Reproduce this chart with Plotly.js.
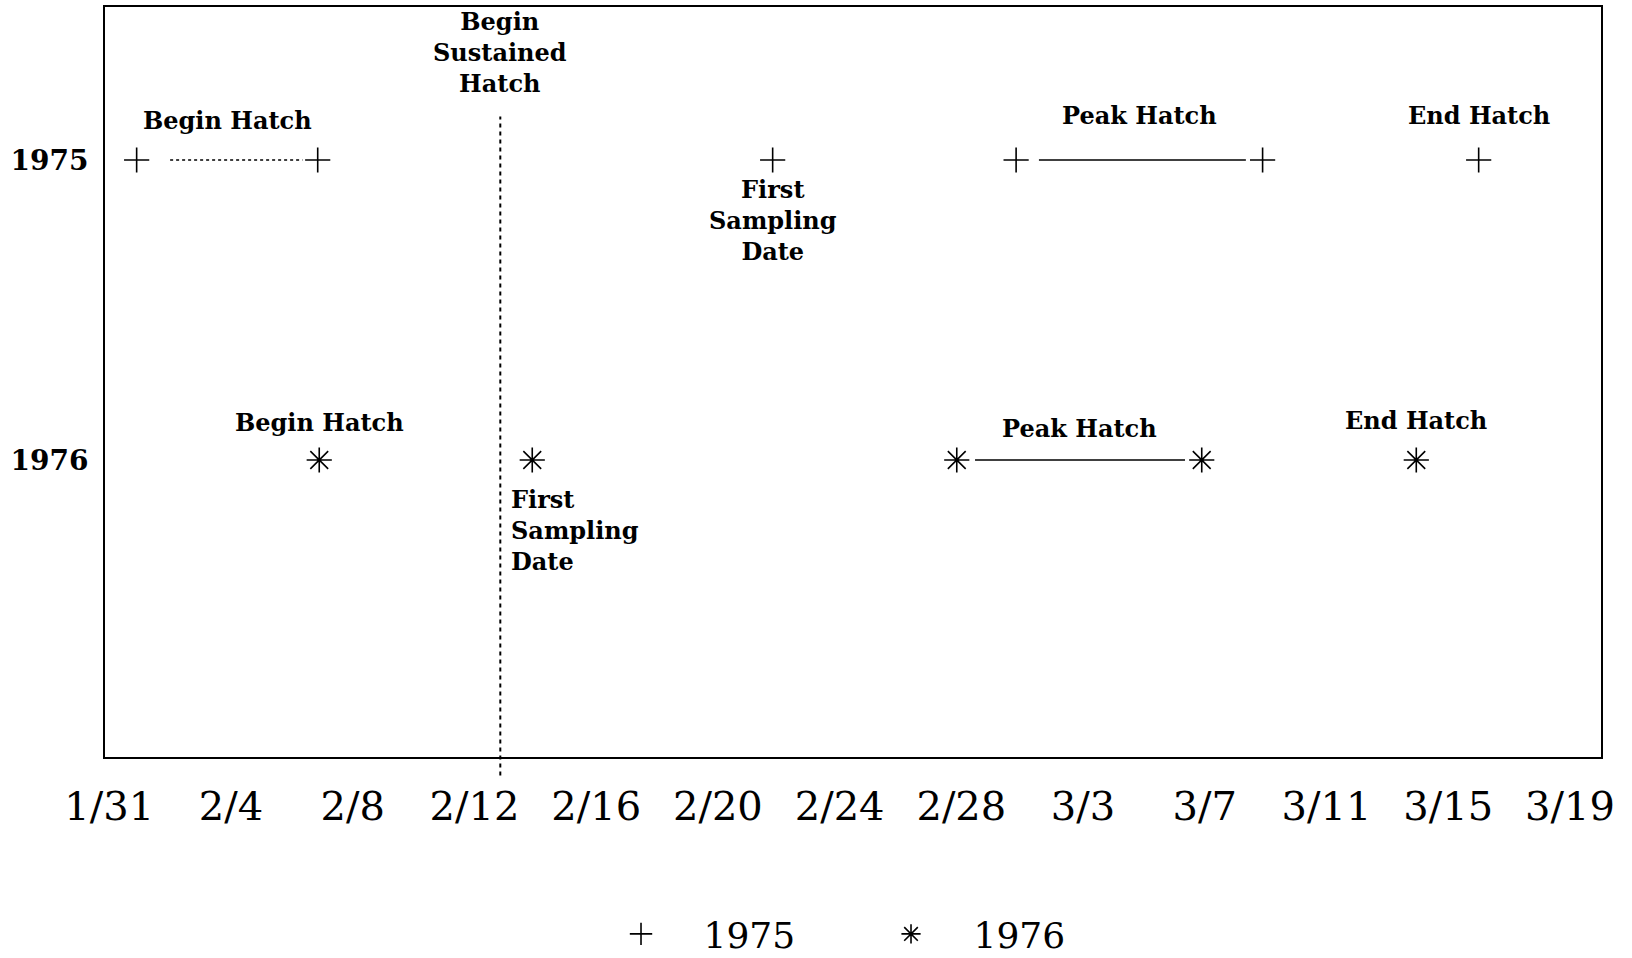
<!DOCTYPE html>
<html>
<head>
<meta charset="utf-8">
<script src="https://cdn.plot.ly/plotly-3.0.1.min.js"></script>
<style>
  html, body { margin: 0; padding: 0; background: #fff; }
  #chart { width: 1632px; height: 958px; }
</style>
</head>
<body>
<div id="chart"></div>
<script>
// ---- Data (days counted from 1/31) ----
const tickDays = [0, 4, 8, 12, 16, 20, 24, 28, 32, 36, 40, 44, 48];
const tickLabels = ['1/31', '2/4', '2/8', '2/12', '2/16', '2/20', '2/24', '2/28', '3/3', '3/7', '3/11', '3/15', '3/19'];
const yearVals = [1975, 1976];
const yearLabels = ['1975', '1976'];

// 1975 events
const beginHatch1975 = [0.9, 6.85];
const firstSampling1975 = [21.8];
const peakHatch1975 = [29.8, 37.9];
const endHatch1975 = [45.0];

// 1976 events
const beginHatch1976 = [6.9];
const firstSampling1976 = [13.9];
const peakHatch1976 = [27.85, 35.9];
const endHatch1976 = [42.95];

// Begin of sustained hatch (vertical line)
const sustainedHatchDay = 12.85;

// ---- Build traces ----
const x1975 = [].concat(beginHatch1975, firstSampling1975, peakHatch1975, endHatch1975);
const x1976 = [].concat(beginHatch1976, firstSampling1976, peakHatch1976, endHatch1976);

const SERIF = 'DejaVu Serif, Liberation Serif, serif';

function segment(xs, y, gapL, gapR, dash) {
  return {
    x: [xs[0] + gapL, xs[1] - gapR],
    y: [y, y],
    mode: 'lines',
    line: { color: '#000', width: 1.6, dash: dash },
    showlegend: false,
    hoverinfo: 'skip'
  };
}

const traces = [
  segment(beginHatch1975, yearVals[0], 1.1, 0.5, '3px,3px'),
  segment(peakHatch1975, yearVals[0], 0.75, 0.55, 'solid'),
  segment(peakHatch1976, yearVals[1], 0.6, 0.55, 'solid'),
  {
    x: x1975,
    y: x1975.map(() => yearVals[0]),
    mode: 'markers',
    name: yearLabels[0],
    marker: { symbol: 'cross-thin-open', size: 18, color: '#000', line: { color: '#000', width: 1.6 } },
    cliponaxis: false
  },
  {
    x: x1976,
    y: x1976.map(() => yearVals[1]),
    mode: 'markers',
    name: yearLabels[1],
    marker: { symbol: 'asterisk-open', size: 21, color: '#000', line: { color: '#000', width: 1.6 } },
    cliponaxis: false
  }
];

// ---- Annotations ----
const annFont = { family: SERIF, size: 24, color: '#000', weight: 'bold' };
function ann(x, y, text, yshift, extra) {
  return Object.assign({
    x: x, y: y, xref: 'x', yref: 'y', text: text, showarrow: false,
    xanchor: 'center', yanchor: 'middle', yshift: yshift, font: annFont
  }, extra || {});
}
const mid = a => (a[0] + a[1]) / 2;

const annotations = [
  ann(mid(beginHatch1975), yearVals[0], 'Begin Hatch', 40),
  ann(sustainedHatchDay, yearVals[0], 'Begin<br>Sustained<br>Hatch', 108),
  ann(firstSampling1975[0], yearVals[0], 'First<br>Sampling<br>Date', -60),
  ann(mid(peakHatch1975), yearVals[0], 'Peak Hatch', 45),
  ann(endHatch1975[0], yearVals[0], 'End Hatch', 45),
  ann(beginHatch1976[0], yearVals[1], 'Begin Hatch', 38),
  ann(firstSampling1976[0], yearVals[1], 'First<br>Sampling<br>Date', -70, { xanchor: 'left', xshift: -23, align: 'left' }),
  ann(mid(peakHatch1976), yearVals[1], 'Peak Hatch', 32),
  ann(endHatch1976[0], yearVals[1], 'End Hatch', 40)
];

const layout = {
  width: 1632,
  height: 958,
  margin: { l: 105, r: 31, t: 7, b: 201, autoexpand: false },
  paper_bgcolor: '#fff',
  plot_bgcolor: '#fff',
  showlegend: true,
  xaxis: {
    range: [-0.14, 49.02],
    tickvals: tickDays,
    ticktext: tickLabels,
    ticks: '',
    showgrid: false,
    zeroline: false,
    showline: true,
    mirror: true,
    linecolor: '#000',
    linewidth: 2,
    ticklabelstandoff: 13,
    tickfont: { family: SERIF, size: 40, color: '#000' }
  },
  yaxis: {
    range: [1976.99, 1974.49],
    tickvals: yearVals,
    ticktext: yearLabels,
    ticks: '',
    showgrid: false,
    zeroline: false,
    showline: true,
    mirror: true,
    linecolor: '#000',
    linewidth: 2,
    ticklabelstandoff: 9,
    tickfont: { family: SERIF, size: 28, color: '#000', weight: 'bold' }
  },
  legend: {
    orientation: 'h',
    x: 0.497,
    xanchor: 'center',
    y: -0.236,
    yanchor: 'middle',
    font: { family: SERIF, size: 36, color: '#000' },
    itemwidth: 115,
    entrywidth: 140,
    bgcolor: 'rgba(0,0,0,0)'
  },
  shapes: [{
    type: 'line',
    xref: 'x',
    yref: 'paper',
    x0: sustainedHatchDay,
    x1: sustainedHatchDay,
    y0: -0.0245,
    y1: 0.854,
    line: { color: '#000', width: 2, dash: '4px,4px' }
  }],
  annotations: annotations
};

Plotly.newPlot('chart', traces, layout, { displayModeBar: false, staticPlot: true });
</script>
</body>
</html>
